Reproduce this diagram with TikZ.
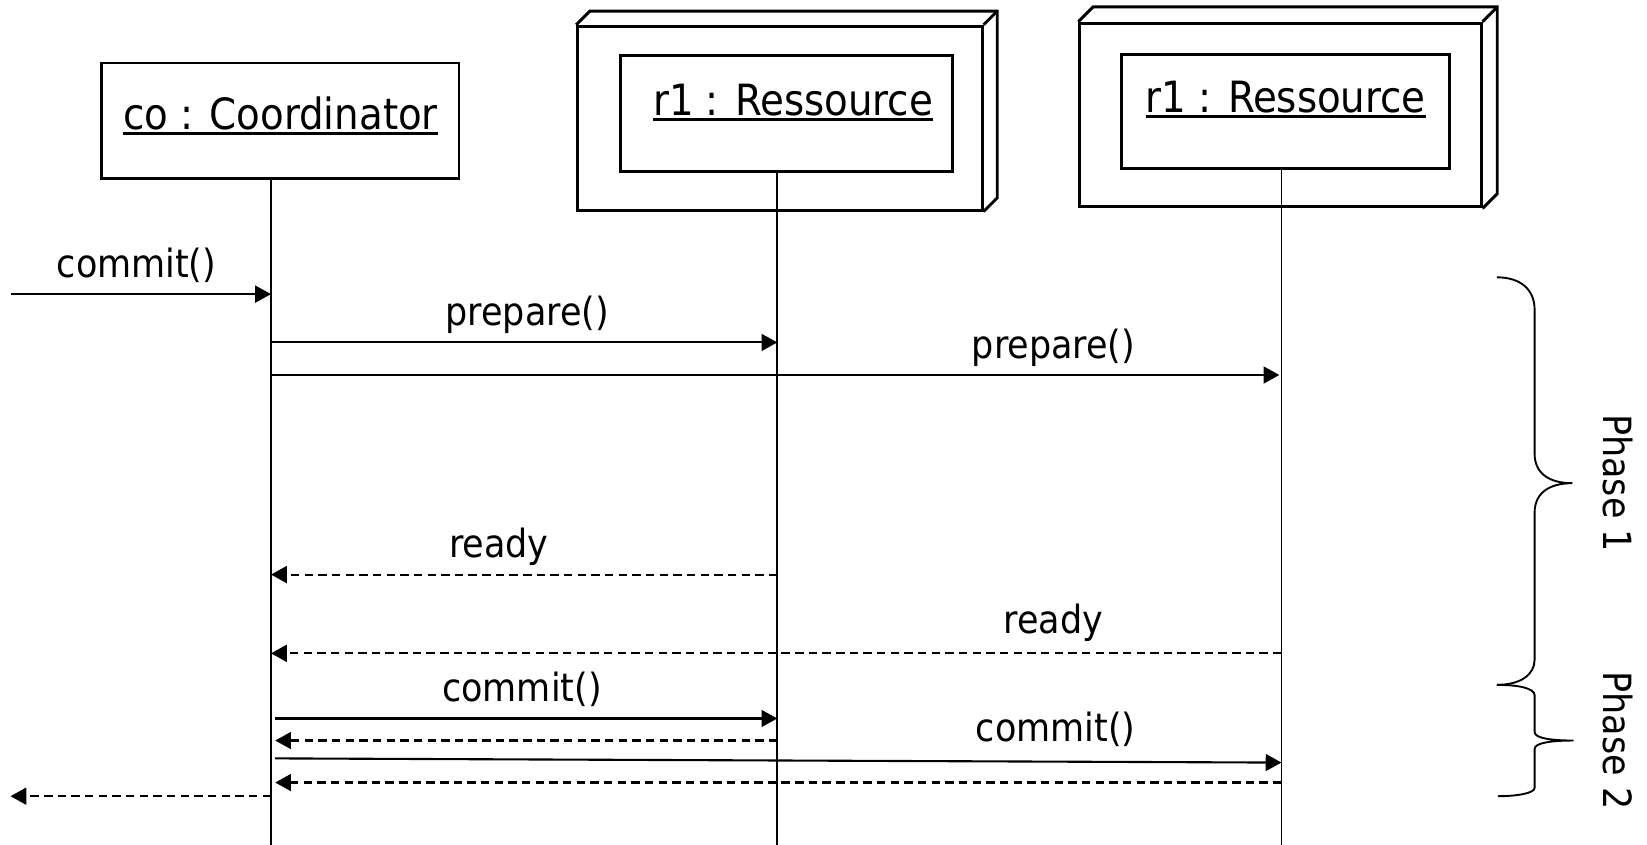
\documentclass[tikz,border=0pt]{standalone}
\usepackage{fontspec}
\setmainfont{DejaVu Sans Condensed}
\usetikzlibrary{arrows.meta}
\begin{document}
\begin{tikzpicture}[x=1pt,y=-1pt,
  thk/.style={line width=2.8pt},
  objbox/.style={draw,line width=2.8pt,inner sep=0,fill=none},
  txt/.style={font=\fontsize{41}{48}\selectfont,inner sep=0},
  mtxt/.style={font=\fontsize{37}{44}\selectfont,inner sep=0},
  ulin/.style={line width=2.4pt},
  life/.style={line width=1.8pt},
  msg/.style={line width=2pt,-{Triangle[length=15pt,width=16pt]}},
  ret/.style={line width=2pt,dash pattern=on 8pt off 5pt,-{Triangle[length=15pt,width=16pt]}},
  brace/.style={line width=1.8pt}]
\useasboundingbox (0,0) rectangle (1568,804);

% Coordinator
\node[objbox,minimum width=340pt,minimum height=110pt] (co) at (267,115) {};
\node[txt,anchor=base] (cot) at (267,123) {co : Coordinator};
\draw[ulin] ([yshift=-4pt]cot.base west) -- ([yshift=-4pt]cot.base east);

% Resource 1
\node[objbox,minimum width=385pt,minimum height=175pt] (r1o) at (742.5,112.5) {};
\draw[thk,line join=miter] (r1o.north west) -- ++(13,-13) -- ([shift={(13,-13)}]r1o.north east) -- ([shift={(13,-13)}]r1o.south east) -- (r1o.south east);
\draw[thk] (r1o.north east) -- ++(13,-13);
\node[objbox,minimum width=316pt,minimum height=110pt] (r1i) at (749,108) {};
\node[txt,anchor=base] (r1t) at (755,110) {r1 : Ressource};
\draw[ulin] ([yshift=-4pt]r1t.base west) -- ([yshift=-4pt]r1t.base east);

% Resource 2
\node[objbox,minimum width=382pt,minimum height=175pt] (r2o) at (1219,109.5) {};
\draw[thk,line join=miter] (r2o.north west) -- ++(14,-14) -- ([shift={(14,-14)}]r2o.north east) -- ([shift={(14,-14)}]r2o.south east) -- (r2o.south east);
\draw[thk] (r2o.north east) -- ++(14,-14);
\node[objbox,minimum width=312pt,minimum height=108pt] (r2i) at (1224,106) {};
\node[txt,anchor=base] (r2t) at (1224,107) {r1 : Ressource};
\draw[ulin] ([yshift=-4pt]r2t.base west) -- ([yshift=-4pt]r2t.base east);

% lifelines
\coordinate (L0) at (258,170);
\coordinate (L1) at (740,163);
\coordinate (L2) at (1220,160);
\coordinate (L0e) at (258,804);
\coordinate (L1e) at (740,804);
\coordinate (L2e) at (1220,804);
\draw[life] (L0) -- (L0e);
\draw[life] (L1) -- (L1e);
\draw[life] (L2) -- (L2e);

% messages
\coordinate (in1) at (10,280);
\draw[msg] (in1) -- (L0|-in1);
\node[mtxt,anchor=base] (l1) at (130,264) {commit()};

\coordinate (m2) at (262,326);
\draw[msg] (L0|-m2) -- (L1|-m2);
\node[mtxt,anchor=base] (l2) at (502,310) {prepare()};

\coordinate (m3) at (0,357);
\draw[msg] (L0|-m3) -- (1218,357);
\node[mtxt,anchor=base] (l3) at (1003,341) {prepare()};

\coordinate (m4) at (0,547);
\draw[ret] (L1|-m4) -- (L0|-m4);
\node[mtxt,anchor=base] (l4) at (475,531) {ready};

\coordinate (m5) at (0,622);
\draw[ret] (L2|-m5) -- (L0|-m5);
\node[mtxt,anchor=base] (l5) at (1003,603) {ready};

\coordinate (m6a) at (262,684);
\draw[msg] (m6a) -- (L1|-m6a);
\node[mtxt,anchor=base] (l6) at (497,668) {commit()};

\coordinate (m7a) at (262,705);
\draw[ret] (L1|-m7a) -- (m7a);

\coordinate (m8a) at (262,722);
\coordinate (m8b) at (1220,726);
\draw[msg] (m8a) -- (m8b);
\node[mtxt,anchor=base] (l8) at (1005,706) {commit()};

\coordinate (m9a) at (262,745);
\draw[ret] (L2|-m9a) -- (m9a);

\coordinate (out1) at (10,758);
\draw[ret] (L0|-out1) -- (out1);

% braces
\draw[brace] (1425,264) .. controls (1448,264) and (1461,276) .. (1461,295) -- (1461,432)
  .. controls (1461,450) and (1474,460) .. (1497,460)
  .. controls (1474,460) and (1461,470) .. (1461,488) -- (1461,628)
  .. controls (1461,642) and (1448,652) .. (1425,652);
\draw[brace] (1425,652) .. controls (1445,652) and (1461,655) .. (1461,662) -- (1461,697)
  .. controls (1461,703) and (1478,705) .. (1498,705)
  .. controls (1478,705) and (1461,707) .. (1461,713) -- (1461,750)
  .. controls (1461,755) and (1445,758) .. (1426,758);
\node[mtxt,rotate=-90] (p1) at (1540,460) {Phase 1};
\node[mtxt,rotate=-90] (p2) at (1540,705) {Phase 2};
\end{tikzpicture}
\end{document}
